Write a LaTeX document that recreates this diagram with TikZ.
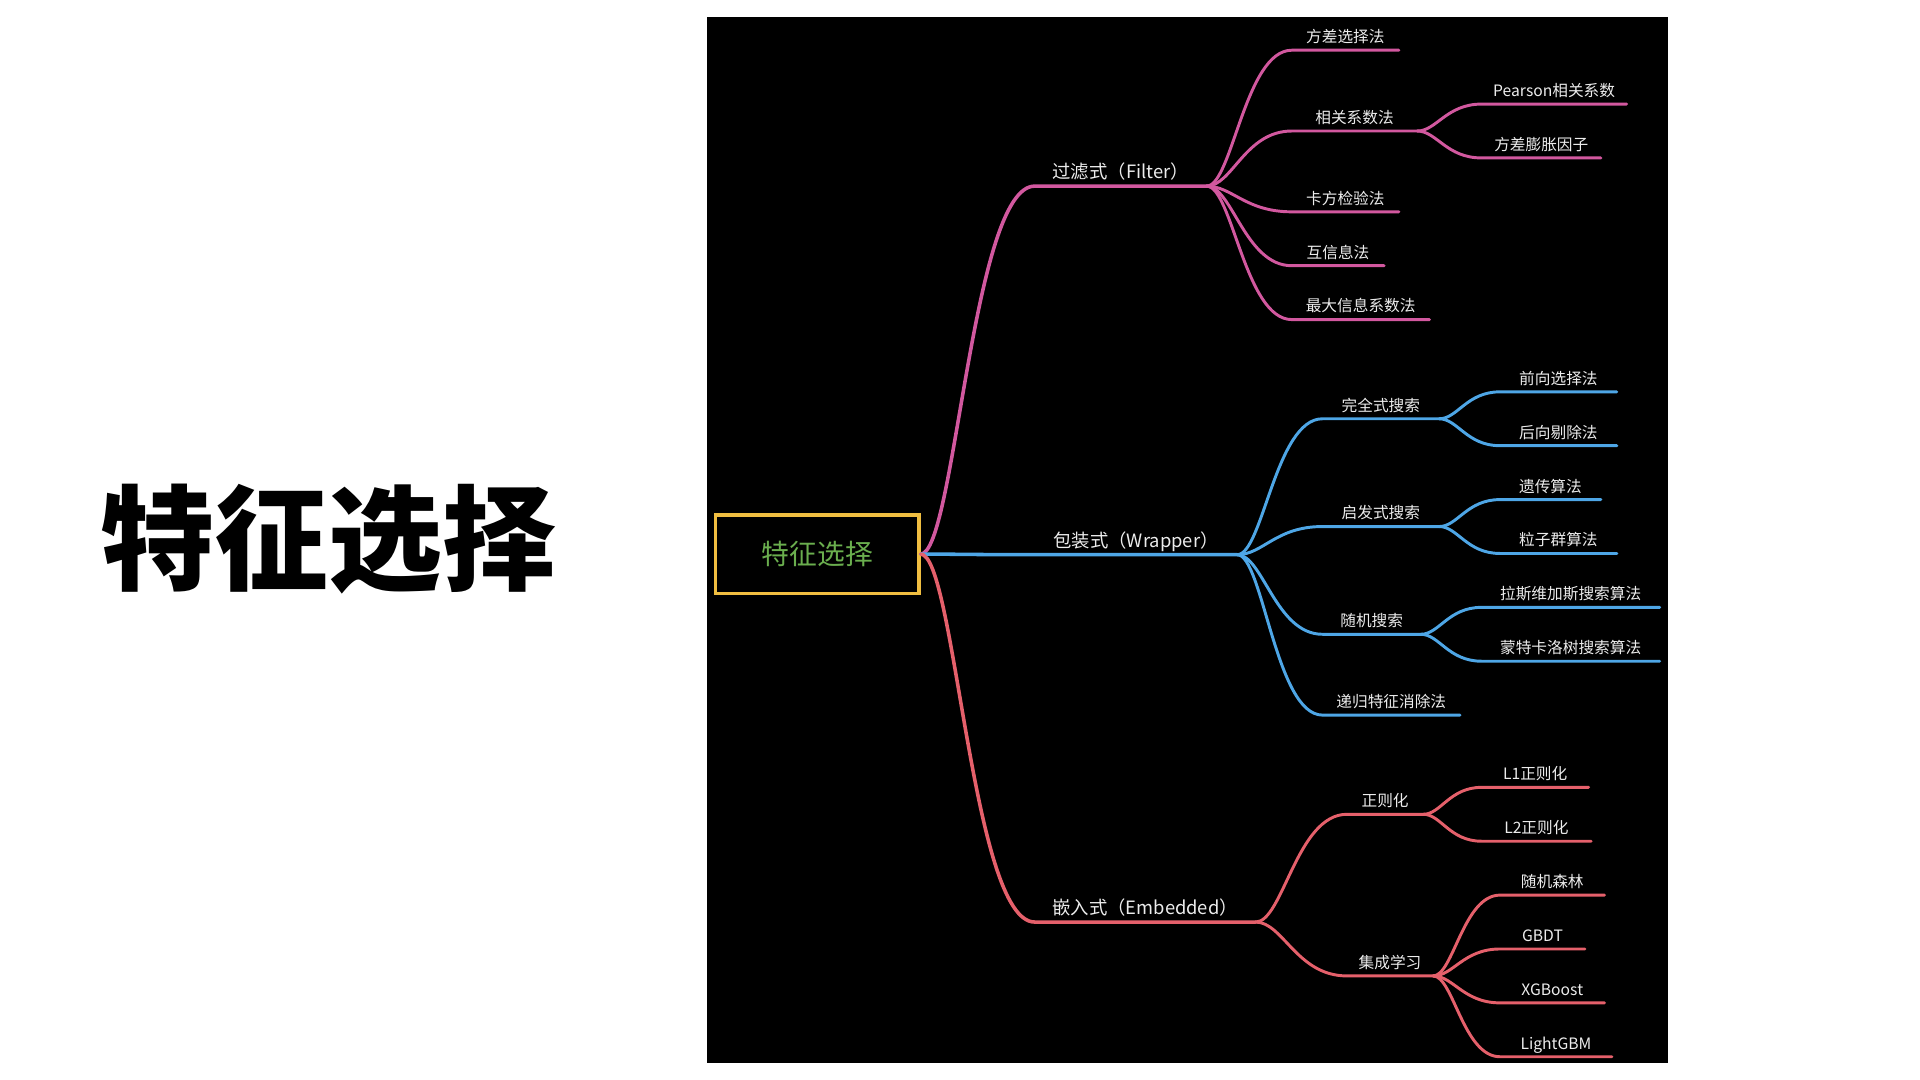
\documentclass[tikz,border=0pt]{standalone}
\usepackage{fontspec}
\usepackage{tikz}
\usetikzlibrary{calc, positioning}
\newfontfamily\cjk{Noto Sans CJK SC}
\definecolor{filterpink}{HTML}{D2589F}
\definecolor{wrapperblue}{HTML}{4EA6E6}
\definecolor{embeddedred}{HTML}{E5606B}
\definecolor{rootyellow}{HTML}{F0BE41}
\definecolor{rootgreen}{HTML}{6AAE4E}
\definecolor{labelgray}{HTML}{ECECEC}

\begin{document}
\begin{tikzpicture}[
    x=1pt, y=-1pt,
    topic/.style  = {anchor=south west, inner xsep=0pt, inner ysep=4pt,
                     text depth=0.2em, text=labelgray,
                     font=\cjk\fontsize{12.8}{15}\selectfont},
    major/.style  = {topic, font=\cjk\fontsize{15}{18}\selectfont},
    branch/.style = {line width=2.4pt, line cap=round,
                     to path={.. controls ($(\tikztostart)!0.3!(\tikztotarget |- \tikztostart)$)
                              and ($(\tikztotarget)!0.55!(\tikztostart |- \tikztotarget)$)
                              .. (\tikztotarget) \tikztonodes}},
    trunk/.style  = {branch, line width=2.9pt}
  ]
  \useasboundingbox (0,0) rectangle (1568,882);
  \fill[white] (0,0) rectangle (1568,882);
  \fill[black] (577,14) rectangle (1362,868);

  % title and central topic
  \node[font=\cjk\bfseries\fontsize{93}{100}\selectfont] (title) at (268,440) {特征选择};
  \node[draw=rootyellow, line width=2.8pt, minimum width=166, minimum height=64,
        text=rootgreen, font=\cjk\fontsize{22.7}{26}\selectfont] (root) at (667.5,452.5) {特征选择};

  % filter methods
  \node[major, minimum width=140] (filter)   at (845,152)  {过滤式（Filter）};
  \node[topic, minimum width=87]  (variance) at (1055,41)  {方差选择法};
  \node[topic, minimum width=102] (corr)     at (1055,107) {相关系数法};
  \node[topic, minimum width=118] (pearson)  at (1210,85)  {Pearson相关系数};
  \node[topic, minimum width=97]  (vif)      at (1210,129) {方差膨胀因子};
  \node[topic, minimum width=87]  (chisq)    at (1055,173) {卡方检验法};
  \node[topic, minimum width=75]  (mutual)   at (1055,217) {互信息法};
  \node[topic, minimum width=112] (mic)      at (1055,261) {最大信息系数法};

  \draw[trunk, filterpink]  (root.east)         to (filter.south west)   -- (filter.south east);
  \draw[branch, filterpink] (filter.south east) to (variance.south west) -- (variance.south east);
  \draw[branch, filterpink] (filter.south east) to (corr.south west)     -- (corr.south east);
  \draw[branch, filterpink] (corr.south east)   to (pearson.south west)  -- (pearson.south east);
  \draw[branch, filterpink] (corr.south east)   to (vif.south west)      -- (vif.south east);
  \draw[branch, filterpink] (filter.south east) to (chisq.south west)    -- (chisq.south east);
  \draw[branch, filterpink] (filter.south east) to (mutual.south west)   -- (mutual.south east);
  \draw[branch, filterpink] (filter.south east) to (mic.south west)      -- (mic.south east);

  % wrapper methods
  \node[major, minimum width=165] (wrapper)   at (845,453)  {包装式（Wrapper）};
  \node[topic, minimum width=95]  (complete)  at (1080,342) {完全式搜索};
  \node[topic, minimum width=95]  (forward)   at (1225,320) {前向选择法};
  \node[topic, minimum width=95]  (backward)  at (1225,364) {后向剔除法};
  \node[topic, minimum width=95]  (heuristic) at (1080,430) {启发式搜索};
  \node[topic, minimum width=82]  (genetic)   at (1225,408) {遗传算法};
  \node[topic, minimum width=95]  (swarm)     at (1225,452) {粒子群算法};
  \node[topic, minimum width=80]  (random)    at (1080,518) {随机搜索};
  \node[topic, minimum width=145] (lasvegas)  at (1210,496) {拉斯维加斯搜索算法};
  \node[topic, minimum width=145] (mcts)      at (1210,540) {蒙特卡洛树搜索算法};
  \node[topic, minimum width=112] (rfe)       at (1080,584) {递归特征消除法};

  \draw[trunk, wrapperblue]  (root.east)            to (wrapper.south west)   -- (wrapper.south east);
  \draw[branch, wrapperblue] (wrapper.south east)   to (complete.south west)  -- (complete.south east);
  \draw[branch, wrapperblue] (complete.south east)  to (forward.south west)   -- (forward.south east);
  \draw[branch, wrapperblue] (complete.south east)  to (backward.south west)  -- (backward.south east);
  \draw[branch, wrapperblue] (wrapper.south east)   to (heuristic.south west) -- (heuristic.south east);
  \draw[branch, wrapperblue] (heuristic.south east) to (genetic.south west)   -- (genetic.south east);
  \draw[branch, wrapperblue] (heuristic.south east) to (swarm.south west)     -- (swarm.south east);
  \draw[branch, wrapperblue] (wrapper.south east)   to (random.south west)    -- (random.south east);
  \draw[branch, wrapperblue] (random.south east)    to (lasvegas.south west)  -- (lasvegas.south east);
  \draw[branch, wrapperblue] (random.south east)    to (mcts.south west)      -- (mcts.south east);
  \draw[branch, wrapperblue] (wrapper.south east)   to (rfe.south west)       -- (rfe.south east);

  % embedded methods
  \node[major, minimum width=180] (embedded) at (845,753)  {嵌入式（Embedded）};
  \node[topic, minimum width=62]  (regular)  at (1100,665) {正则化};
  \node[topic, minimum width=87]  (lone)     at (1210,643) {L1正则化};
  \node[topic, minimum width=89]  (ltwo)     at (1210,687) {L2正则化};
  \node[topic, minimum width=70]  (ensemble) at (1100,797) {集成学习};
  \node[topic, minimum width=85]  (forest)   at (1225,731) {随机森林};
  \node[topic, minimum width=69]  (gbdt)     at (1225,775) {GBDT};
  \node[topic, minimum width=85]  (xgboost)  at (1225,819) {XGBoost};
  \node[topic, minimum width=91]  (lightgbm) at (1225,863) {LightGBM};

  \draw[trunk, embeddedred]  (root.east)           to (embedded.south west) -- (embedded.south east);
  \draw[branch, embeddedred] (embedded.south east) to (regular.south west)  -- (regular.south east);
  \draw[branch, embeddedred] (regular.south east)  to (lone.south west)     -- (lone.south east);
  \draw[branch, embeddedred] (regular.south east)  to (ltwo.south west)     -- (ltwo.south east);
  \draw[branch, embeddedred] (embedded.south east) to (ensemble.south west) -- (ensemble.south east);
  \draw[branch, embeddedred] (ensemble.south east) to (forest.south west)   -- (forest.south east);
  \draw[branch, embeddedred] (ensemble.south east) to (gbdt.south west)     -- (gbdt.south east);
  \draw[branch, embeddedred] (ensemble.south east) to (xgboost.south west)  -- (xgboost.south east);
  \draw[branch, embeddedred] (ensemble.south east) to (lightgbm.south west) -- (lightgbm.south east);
\end{tikzpicture}
\end{document}
